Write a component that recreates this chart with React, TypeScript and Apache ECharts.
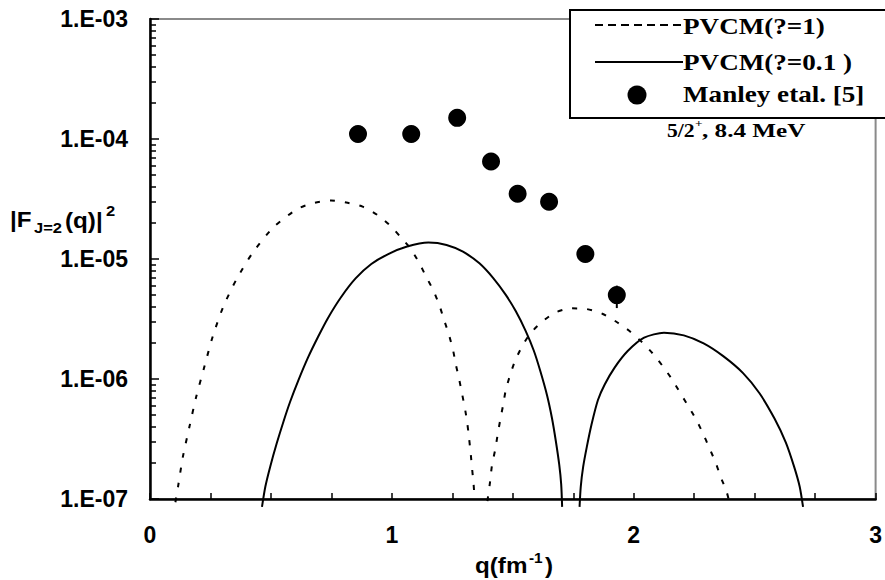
import React, { useEffect, useRef } from 'react';
import * as echarts from 'echarts';

// PVCM (eta = 1), dashed curve, two lobes
const Q_ETA1_A = [0.105, 0.116, 0.136, 0.163, 0.191, 0.225, 0.259, 0.302, 0.358, 0.425, 0.511, 0.609, 0.681, 0.749, 0.817, 0.879, 0.94, 0.993, 1.035, 1.076, 1.114, 1.142, 1.171, 1.196, 1.215, 1.235, 1.253, 1.264, 1.278, 1.291, 1.304, 1.312, 1.317, 1.325, 1.331, 1.338, 1.342];
const F_ETA1_A = [9.4e-8, 1.27e-7, 2.25e-7, 4.0e-7, 7.1e-7, 1.27e-6, 2.25e-6, 3.96e-6, 6.8e-6, 1.13e-5, 1.84e-5, 2.61e-5, 2.94e-5, 3.07e-5, 2.94e-5, 2.73e-5, 2.33e-5, 1.9e-5, 1.53e-5, 1.23e-5, 9.2e-6, 7.1e-6, 5.5e-6, 4.14e-6, 3.14e-6, 2.37e-6, 1.74e-6, 1.33e-6, 1.0e-6, 7.4e-7, 5.4e-7, 4.25e-7, 3.5e-7, 2.5e-7, 1.85e-7, 1.32e-7, 1.0e-7];
const Q_ETA1_B = [1.395, 1.406, 1.414, 1.427, 1.437, 1.448, 1.46, 1.471, 1.489, 1.509, 1.539, 1.573, 1.618, 1.676, 1.741, 1.805, 1.87, 1.928, 1.986, 2.036, 2.08, 2.121, 2.159, 2.193, 2.227, 2.259, 2.286, 2.313, 2.339, 2.361, 2.384, 2.4];
const F_ETA1_B = [9.6e-8, 1.39e-7, 1.92e-7, 2.56e-7, 3.41e-7, 4.55e-7, 6.07e-7, 8.1e-7, 1.08e-6, 1.41e-6, 1.88e-6, 2.4e-6, 2.97e-6, 3.58e-6, 3.88e-6, 3.83e-6, 3.5e-6, 3.0e-6, 2.48e-6, 2.01e-6, 1.62e-6, 1.27e-6, 9.9e-7, 7.6e-7, 5.88e-7, 4.55e-7, 3.53e-7, 2.65e-7, 2.0e-7, 1.5e-7, 1.15e-7, 8.6e-8];

// PVCM (eta = 0.1), solid curve, two lobes
const Q_ETA01_A = [0.463, 0.477, 0.497, 0.524, 0.552, 0.579, 0.613, 0.654, 0.695, 0.736, 0.789, 0.85, 0.915, 0.985, 1.063, 1.151, 1.226, 1.294, 1.362, 1.42, 1.471, 1.512, 1.553, 1.587, 1.614, 1.642, 1.662, 1.678, 1.692, 1.7, 1.704];
const F_ETA01_A = [8.6e-8, 1.27e-7, 1.86e-7, 2.91e-7, 4.43e-7, 6.43e-7, 9.7e-7, 1.52e-6, 2.25e-6, 3.23e-6, 4.78e-6, 6.89e-6, 9.08e-6, 1.1e-5, 1.27e-5, 1.37e-5, 1.31e-5, 1.15e-5, 9.2e-6, 6.9e-6, 5.02e-6, 3.68e-6, 2.52e-6, 1.72e-6, 1.16e-6, 7.26e-7, 4.71e-7, 3.03e-7, 1.93e-7, 1.33e-7, 8.6e-8];
const Q_ETA01_B = [1.776, 1.781, 1.791, 1.806, 1.825, 1.852, 1.88, 1.921, 1.975, 2.043, 2.125, 2.207, 2.289, 2.37, 2.452, 2.52, 2.582, 2.629, 2.663, 2.686, 2.7];
const F_ETA01_B = [8.6e-8, 1.27e-7, 1.86e-7, 2.72e-7, 4.14e-7, 6.68e-7, 9.0e-7, 1.245e-6, 1.71e-6, 2.21e-6, 2.43e-6, 2.31e-6, 1.98e-6, 1.55e-6, 1.12e-6, 7.6e-7, 4.68e-7, 2.95e-7, 1.86e-7, 1.27e-7, 8.6e-8];

// Manley et al. [5] data points
const Q_MANLEY = [0.86, 1.08, 1.27, 1.41, 1.52, 1.65, 1.8, 1.93];
const F_MANLEY = [1.1e-4, 1.1e-4, 1.5e-4, 6.5e-5, 3.5e-5, 3.0e-5, 1.1e-5, 5.0e-6];
const ERR_Q = [1.93, 1.93];
const ERR_F = [3.9e-6, 6.0e-6];

// Axis ticks
const Y_TICK_VALUES = [1e-7, 1e-6, 1e-5, 1e-4, 1e-3];
const Y_TICK_LABELS = ['1.E-07', '1.E-06', '1.E-05', '1.E-04', '1.E-03'];
const MINOR_DECADES = [1e-7, 1e-6, 1e-5, 1e-4];
const MINOR_MULTIPLIERS = [2, 3, 4, 5, 6, 7, 8, 9];
const X_TICK_VALUES = [0, 1, 2, 3];
const X_TICK_LABELS = ['0', '1', '2', '3'];

const LEGEND_LABELS = ['PVCM(?=1)', 'PVCM(?=0.1 )', 'Manley etal. [5]'];

const zip = (q: number[], f: number[]) => q.map((v, i) => [v, f[i]]);

const SANS = '"Liberation Sans", Arial, sans-serif';
const SERIF = '"Liberation Serif", "Times New Roman", serif';

export default function App() {
  const ref = useRef<HTMLDivElement>(null);
  useEffect(() => {
    document.body.style.margin = '0';
    if (!ref.current) return;
    const chart = echarts.init(ref.current, undefined, { renderer: 'svg' });
    const minorTicks = MINOR_DECADES.flatMap((d) => MINOR_MULTIPLIERS.map((m) => m * d));
    const yFmt = (v: number) => {
      const i = Y_TICK_VALUES.findIndex((t) => Math.abs(Math.log10(t) - Math.log10(v)) < 1e-6);
      return i >= 0 ? Y_TICK_LABELS[i] : '';
    };
    const xFmt = (v: number) => {
      const i = X_TICK_VALUES.findIndex((t) => Math.abs(t - v) < 1e-9);
      return i >= 0 ? X_TICK_LABELS[i] : '';
    };
    const lineBase = { type: 'line', showSymbol: false, symbol: 'none', clip: false, smooth: 0.25, silent: true };
    const dashed = { color: '#000', width: 2, type: [5, 10] };
    const solid = { color: '#000', width: 2, type: 'solid' };
    const txt = (text: string, x: number, y: number, font: string, sx = 1) => ({
      type: 'text', x, y, scaleX: sx, z: 101,
      style: { text, font, fill: '#000', align: 'left', verticalAlign: 'middle' },
    });
    chart.setOption({
      animation: false,
      backgroundColor: '#fff',
      grid: { left: 150, top: 19, width: 734, height: 480, show: true, borderColor: '#8a8a8a', borderWidth: 2, backgroundColor: 'transparent' },
      xAxis: {
        type: 'value', min: 0, max: 3, interval: 0.25,
        axisLine: { show: true, onZero: false, lineStyle: { color: '#000', width: 2.5 } },
        axisTick: { show: true, inside: true, length: 6, lineStyle: { color: '#000', width: 1.5 } },
        axisLabel: { formatter: xFmt, margin: 24, fontSize: 23, fontWeight: 'bold', fontFamily: SANS, color: '#000', showMaxLabel: true, showMinLabel: true },
        splitLine: { show: false },
      },
      yAxis: [
        {
          type: 'log', logBase: 10, min: 1e-7, max: 1e-3,
          axisLine: { show: true, lineStyle: { color: '#000', width: 2.5 } },
          axisTick: { show: true, inside: true, length: 9, lineStyle: { color: '#000', width: 1.5 } },
          axisLabel: { formatter: yFmt, margin: 22, fontSize: 23, fontWeight: 'bold', fontFamily: SANS, color: '#000' },
          splitLine: { show: false },
        },
        {
          type: 'log', logBase: 10, min: 1e-7, max: 1e-3, position: 'left',
          axisLine: { show: false },
          axisTick: { show: true, inside: true, length: 6, customValues: minorTicks, lineStyle: { color: '#000', width: 1.5 } },
          axisLabel: { show: false },
          splitLine: { show: false },
        },
      ],
      series: [
        { ...lineBase, name: LEGEND_LABELS[0], data: zip(Q_ETA1_A, F_ETA1_A), lineStyle: dashed },
        { ...lineBase, name: LEGEND_LABELS[0], data: zip(Q_ETA1_B, F_ETA1_B), lineStyle: dashed },
        { ...lineBase, name: LEGEND_LABELS[1], data: zip(Q_ETA01_A, F_ETA01_A), lineStyle: solid },
        { ...lineBase, name: LEGEND_LABELS[1], data: zip(Q_ETA01_B, F_ETA01_B), lineStyle: solid },
        { ...lineBase, smooth: false, name: 'err', data: zip(ERR_Q, ERR_F), lineStyle: { color: '#000', width: 2 } },
        { type: 'scatter', name: LEGEND_LABELS[2], data: zip(Q_MANLEY, F_MANLEY), symbol: 'circle', symbolSize: 18, itemStyle: { color: '#000', opacity: 1 }, silent: true, z: 5 },
      ],
      graphic: [
        { type: 'rect', z: 100, shape: { x: 570, y: 10, width: 330, height: 108 }, style: { fill: '#fff', stroke: '#000', lineWidth: 2 } },
        { type: 'line', z: 101, shape: { x1: 595, y1: 25, x2: 682, y2: 25 }, style: { stroke: '#000', lineWidth: 2, lineDash: [8, 5] } },
        txt(LEGEND_LABELS[0], 683, 26, `bold 24px ${SERIF}`, 1.13),
        { type: 'line', z: 101, shape: { x1: 595, y1: 62, x2: 683, y2: 62 }, style: { stroke: '#000', lineWidth: 2 } },
        txt(LEGEND_LABELS[1], 683, 62, `bold 24px ${SERIF}`, 1.13),
        { type: 'circle', z: 101, shape: { cx: 637, cy: 95, r: 9.5 }, style: { fill: '#000' } },
        txt(LEGEND_LABELS[2], 683, 94, `bold 24px ${SERIF}`, 1.13),
        txt('5/2', 667, 131, `bold 18px ${SERIF}`, 1.2),
        txt('+', 695, 123, `bold 11px ${SERIF}`, 1.2),
        txt(', 8.4 MeV', 702, 131, `bold 18px ${SERIF}`, 1.4),
        // y-axis title |F_{J=2}(q)|^2
        txt('|F', 10, 219, `bold 22px ${SANS}`, 1.1),
        txt('J=2', 34, 228, `bold 15px ${SANS}`, 1.1),
        txt('(q)|', 65, 220, `bold 22px ${SANS}`, 1.1),
        txt('2', 106, 211, `bold 15px ${SANS}`, 1.1),
        // x-axis title q(fm^-1)
        txt('q(fm', 475, 565, `bold 22px ${SANS}`, 1.1),
        txt('-1', 529, 558, `bold 14px ${SANS}`, 1.1),
        txt(')', 545, 565, `bold 22px ${SANS}`, 1.1),
      ],
    });
    return () => chart.dispose();
  }, []);
  return <div ref={ref} style={{ width: 885, height: 580 }} />;
}
